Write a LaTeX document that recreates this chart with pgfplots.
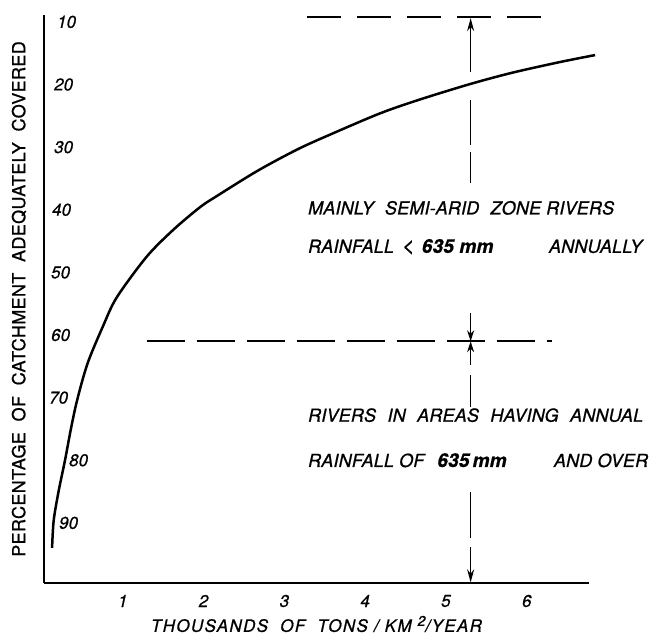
\documentclass[border=0pt]{standalone}
\usepackage{fontspec}
\setmainfont[FakeBold=0.8]{TeX Gyre Heros}
\newfontfamily\lfont[LetterSpace=1,FakeBold=0.8]{TeX Gyre Heros}
\newfontfamily\xfont[LetterSpace=8,FakeBold=0.8]{TeX Gyre Heros}
\newfontfamily\yfont[LetterSpace=2,FakeBold=0.8]{TeX Gyre Heros}
\usepackage{pgfplots}
\pgfplotsset{compat=1.18}
\usetikzlibrary{arrows.meta}

\pgfplotstableread{
x y
0.10 94.0
0.12 89.6
0.18 85.0
0.26 80.0
0.33 75.2
0.41 70.4
0.54 64.5
0.73 58.6
0.90 54.0
1.27 47.5
1.60 43.2
1.93 39.6
2.14 37.8
2.64 33.8
3.13 30.4
3.54 28.0
4.16 24.6
4.65 22.4
5.28 19.9
5.80 18.1
6.39 16.4
6.82 15.3
}\curvedata

\begin{document}
\begin{tikzpicture}
\useasboundingbox (-44pt,-53pt) rectangle (608pt,583pt);
\begin{axis}[
  at={(0,0)}, anchor=south west,
  scale only axis, width=545pt, height=568pt,
  xmin=0, xmax=6.745, ymin=8.9, ymax=99.6, y dir=reverse,
  axis x line=bottom, axis y line=left,
  axis line style={-, line width=2pt},
  clip=false,
  xtick={1,2,3,4,5,6}, ytick={10,20,30,40,50,60,70,80,90},
  major tick length=0pt,
  /pgf/number format/assume math mode=true,
  ticklabel style={font=\fontsize{17}{18}\selectfont\itshape},
  xticklabel style={anchor=center, yshift=-18pt, xshift=-2pt},
  yticklabel style={anchor=west, inner sep=0pt},
  yticklabels={\hspace*{13pt}10,\hspace*{10pt}20,\hspace*{10pt}30,\hspace*{8pt}40,\hspace*{7pt}50,\hspace*{7pt}60,\hspace*{5pt}70,\hspace*{25pt}80,\hspace*{15pt}90},
  xlabel={\xfont\itshape THOUSANDS\ \ OF\ \ TONS / KM\ \raisebox{6pt}{\fontsize{14}{14}\selectfont 2}/YEAR},
  xlabel style={at={(axis description cs:0.5,0)}, anchor=center, yshift=-41pt, font=\fontsize{17}{19}\selectfont},
  ylabel={\yfont PERCENTAGE\ \ OF\ \ CATCHMENT\ \ ADEQUATELY\ \ COVERED},
  ylabel style={at={(axis description cs:0,0.5)}, anchor=center, yshift=25pt, font=\fontsize{18}{20}\selectfont},
]
\addplot[line width=2.5pt, smooth, tension=0.5] table {\curvedata};

% horizontal dashed boundaries
\addplot[line width=1.7pt, dash pattern=on 34pt off 16pt] coordinates {(3.26,9.2) (6.24,9.2)};
\addplot[line width=1.7pt, dash pattern=on 38pt off 12pt] coordinates {(1.27,61.0) (6.29,61.0)};

% vertical dimension arrows
\addplot[line width=1.5pt, -{Stealth[length=13pt,width=7pt]}] coordinates {(5.28,18.0) (5.28,9.4)};
\addplot[line width=1.5pt] coordinates {(5.28,22.5) (5.28,29.6)};
\addplot[line width=1.5pt] coordinates {(5.28,30.8) (5.28,35.7)};
\addplot[line width=1.5pt, -{Stealth[length=11pt,width=7pt]}] coordinates {(5.28,56.5) (5.28,61.0)};
\addplot[line width=1.5pt, -{Stealth[length=11pt,width=7pt]}] coordinates {(5.28,64.8) (5.28,61.0)};
\addplot[line width=1.5pt] coordinates {(5.28,66.4) (5.28,71.5)};
\addplot[line width=1.5pt] coordinates {(5.28,85.1) (5.28,92.4)};
\addplot[line width=1.5pt, -{Stealth[length=13pt,width=7pt]}] coordinates {(5.28,93.9) (5.28,99.5)};

% annotations
\tikzset{ann/.style={anchor=west, inner sep=0pt, font=\fontsize{18}{20}\selectfont\lfont\itshape}}
\node[ann] at (axis cs:3.267,39.7) {\hbox to 306pt{MAINLY\hfill SEMI-ARID\hfill ZONE\ RIVERS}};
\node[ann] at (axis cs:3.267,45.9) {\hbox to 334pt{RAINFALL\hspace{8pt}{\fontsize{22}{22}\selectfont <}\hspace{7pt}{\fontsize{19}{20}\selectfont\bfseries 635 mm}\hfill ANNUALLY}};
\node[ann] at (axis cs:3.267,72.8) {\hbox to 335pt{RIVERS\hfill IN\hfill AREAS\hfill HAVING\hfill ANNUAL}};
\node[ann] at (axis cs:3.267,80.0) {\hbox to 340pt{RAINFALL\ OF\hspace{13pt}{\fontsize{19}{20}\selectfont\bfseries 635\,mm}\hfill AND\ OVER}};
\end{axis}
\end{tikzpicture}
\end{document}
